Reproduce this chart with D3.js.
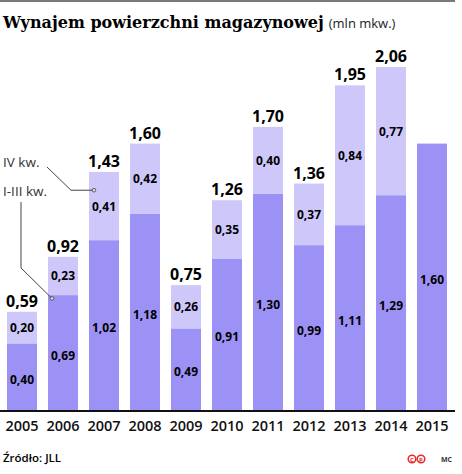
<!DOCTYPE html>
<html>
<head>
<meta charset="utf-8">
<script src="https://cdn.jsdelivr.net/npm/d3@7/dist/d3.min.js"></script>
<style>
  body { margin: 0; background: #fff; }
  svg { display: block; }
</style>
</head>
<body>
<svg id="chart" width="462" height="474"></svg>
<script>
var years = ['2005', '2006', '2007', '2008', '2009', '2010', '2011', '2012', '2013', '2014', '2015'];
var q1to3 = [0.40, 0.69, 1.02, 1.18, 0.49, 0.91, 1.30, 0.99, 1.11, 1.29, 1.60];
var q4 = [0.20, 0.23, 0.41, 0.42, 0.26, 0.35, 0.40, 0.37, 0.84, 0.77, null];
var totals = [0.59, 0.92, 1.43, 1.60, 0.75, 1.26, 1.70, 1.36, 1.95, 2.06, null];

var config = {
    darkColor: '#9c91f4',
    lightColor: '#cdc8f9',
    sans: '"Open Sans", "Noto Sans", sans-serif'
};

var fmt = function(v) { return d3.format('.2f')(v).replace('.', ','); };

var data = years.map(function(y, i) {
    return { year: y, low: q1to3[i], high: q4[i], total: totals[i] };
});

var svg = d3.select('#chart');

var x = d3.scaleBand()
    .domain(years)
    .range([7, 447])
    .paddingInner(11 / 41)
    .paddingOuter(0);

var y = d3.scaleLinear()
    .domain([0, 2])
    .range([410, 77]);

// top rule
svg.append('rect')
    .attr('x', 0).attr('y', 0)
    .attr('width', 455).attr('height', 2)
    .attr('fill', '#7a7a7a');

// title
var title = svg.append('text')
    .attr('x', 3)
    .attr('y', 28);
title.append('tspan')
    .style('font-family', '"DejaVu Serif", serif')
    .style('font-weight', 'bold')
    .style('font-size', '16px')
    .text('Wynajem powierzchni magazynowej');
title.append('tspan')
    .attr('dx', 5)
    .style('font-family', config.sans)
    .style('font-size', '13px')
    .attr('fill', '#222')
    .text('(mln mkw.)');

var bars = svg.append('g').selectAll('g')
    .data(data)
    .join('g');

bars.append('rect')
    .attr('x', function(d) { return x(d.year); })
    .attr('width', x.bandwidth())
    .attr('y', function(d) { return y(d.low); })
    .attr('height', function(d) { return y(0) - y(d.low); })
    .attr('fill', config.darkColor);

bars.filter(function(d) { return d.total != null; })
    .append('rect')
    .attr('x', function(d) { return x(d.year); })
    .attr('width', x.bandwidth())
    .attr('y', function(d) { return y(d.total); })
    .attr('height', function(d) { return y(d.low) - y(d.total); })
    .attr('fill', config.lightColor);

// inner labels
bars.append('text')
    .attr('x', function(d) { return x(d.year) + x.bandwidth() / 2; })
    .attr('y', function(d) { return (y(0) + y(d.low)) / 2 + 7; })
    .attr('text-anchor', 'middle')
    .style('font-family', config.sans)
    .style('font-weight', 'bold')
    .style('font-size', '12px')
    .text(function(d) { return fmt(d.low); });

bars.filter(function(d) { return d.high != null; })
    .append('text')
    .attr('x', function(d) { return x(d.year) + x.bandwidth() / 2; })
    .attr('y', function(d) { return (y(d.low) + y(d.total)) / 2 + 4.5; })
    .attr('text-anchor', 'middle')
    .style('font-family', config.sans)
    .style('font-weight', 'bold')
    .style('font-size', '12px')
    .text(function(d) { return fmt(d.high); });

// totals
bars.filter(function(d) { return d.total != null; })
    .append('text')
    .attr('x', function(d) { return x(d.year) + x.bandwidth() / 2; })
    .attr('y', function(d) { return y(d.total) - 5; })
    .attr('text-anchor', 'middle')
    .style('font-family', config.sans)
    .style('font-weight', 'bold')
    .style('font-size', '16px')
    .text(function(d) { return fmt(d.total); });

// axis
var axis = svg.append('g')
    .attr('transform', 'translate(0,' + y(0) + ')')
    .call(d3.axisBottom(x).tickSize(0).tickPadding(11));
axis.select('.domain').remove();
axis.selectAll('text')
    .style('font-family', config.sans)
    .style('font-size', '14.5px')
    .style('font-weight', 600)
    .attr('fill', '#111');
svg.append('line')
    .attr('x1', 0).attr('x2', 455)
    .attr('y1', y(0) + 1).attr('y2', y(0) + 1)
    .attr('stroke', '#111')
    .attr('stroke-width', 2);

// legend with leader lines
var legend = svg.append('g')
    .style('font-family', config.sans)
    .style('font-size', '13.5px')
    .attr('fill', '#333');

legend.append('text').attr('x', 3).attr('y', 167).text('IV kw.');
legend.append('text').attr('x', 3).attr('y', 196).text('I-III kw.');

var p4 = [x('2007') + 5, y(1.32)];
var p13 = [x('2006') + 4, y(0.67)];

legend.append('path')
    .attr('d', d3.line()([[47, 167], [71, p4[1]], p4]))
    .attr('fill', 'none').attr('stroke', '#444').attr('stroke-width', 1);
legend.append('path')
    .attr('d', d3.line()([[21, 202], [21, 268], p13]))
    .attr('fill', 'none').attr('stroke', '#444').attr('stroke-width', 1);

[p4, p13].forEach(function(p) {
    legend.append('circle')
        .attr('cx', p[0]).attr('cy', p[1]).attr('r', 1.8)
        .attr('fill', '#ddd').attr('stroke', '#444').attr('stroke-width', 0.8);
});

// footer
svg.append('text')
    .attr('x', 3).attr('y', 462)
    .style('font-family', config.sans)
    .style('font-weight', 600)
    .style('font-size', '11.5px')
    .text('Źródło: JLL');

['C', 'P'].forEach(function(c, i) {
    var cx = 412 + i * 9;
    svg.append('circle')
        .attr('cx', cx).attr('cy', 459).attr('r', 3.8)
        .attr('fill', 'none').attr('stroke', '#e8262b').attr('stroke-width', 1.5);
    svg.append('text')
        .attr('x', cx).attr('y', 461.5)
        .attr('text-anchor', 'middle')
        .style('font-family', config.sans)
        .style('font-weight', 'bold')
        .style('font-size', '6px')
        .attr('fill', '#e8262b')
        .text(c);
});

svg.append('text')
    .attr('x', 441).attr('y', 462)
    .style('font-family', config.sans)
    .style('font-weight', 'bold')
    .style('font-size', '7px')
    .attr('fill', '#333')
    .text('MC');
</script>
</body>
</html>
